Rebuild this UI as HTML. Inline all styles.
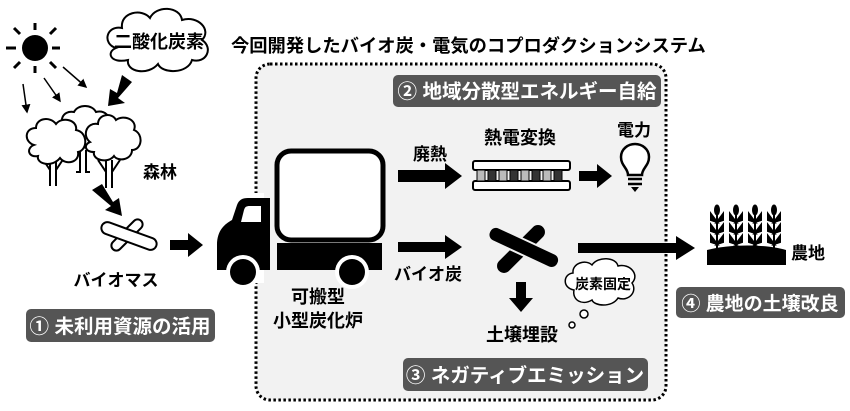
<!DOCTYPE html>
<html><head><meta charset="utf-8"><style>
html,body{margin:0;padding:0;background:#fff;}
svg{display:block;}
text{font-family:"Liberation Sans","Noto Sans CJK JP",sans-serif;font-weight:bold;}
</style></head><body>
<svg width="850" height="411" viewBox="0 0 850 411" xmlns="http://www.w3.org/2000/svg">
<defs>
<marker id="ah" markerWidth="6" markerHeight="6" refX="5" refY="3" orient="auto" markerUnits="strokeWidth"><path d="M0,0 L6,3 L0,6 Z" fill="#000"/></marker>
</defs>
<rect x="256" y="64" width="410" height="336" rx="14" fill="#f2f2f2" stroke="#000" stroke-width="3" stroke-dasharray="2.5,2.5"/>
<rect x="245" y="193" width="19" height="90" fill="#fff"/>
<text x="231" y="52" font-size="18.3">今回開発したバイオ炭・電気のコプロダクションシステム</text>

<rect x="393" y="75" width="268" height="32" rx="5" fill="#555"/>
<text x="527" y="98" font-size="19.5" fill="#fff" text-anchor="middle">② 地域分散型エネルギー自給</text>
<rect x="403" y="358" width="245" height="33" rx="5" fill="#555"/>
<text x="525" y="382" font-size="19.5" fill="#fff" text-anchor="middle">③ ネガティブエミッション</text>
<rect x="26" y="309" width="189" height="33" rx="5" fill="#555"/>
<text x="120" y="333" font-size="19.5" fill="#fff" text-anchor="middle">① 未利用資源の活用</text>
<rect x="676" y="287" width="169" height="31" rx="5" fill="#555"/>
<text x="760" y="310" font-size="19" fill="#fff" text-anchor="middle">④ 農地の土壌改良</text>

<circle cx="35" cy="48" r="13" fill="#000"/>
<g stroke="#000" stroke-width="3">
<line x1="35" y1="23" x2="35" y2="30"/><line x1="35" y1="66" x2="35" y2="73"/>
<line x1="6" y1="48" x2="16" y2="48"/><line x1="52" y1="48" x2="60" y2="48"/>
<line x1="14" y1="28" x2="20" y2="34"/><line x1="50" y1="62" x2="56" y2="68"/>
<line x1="14" y1="68" x2="20" y2="62"/><line x1="50" y1="34" x2="56" y2="28"/>
</g>
<g stroke="#000" stroke-width="1.5" marker-end="url(#ah)">
<line x1="23" y1="84" x2="27" y2="112"/>
<line x1="44" y1="78" x2="60" y2="101"/>
<line x1="63" y1="67" x2="86" y2="87"/>
</g>
<path d="M116,48 C102,44 106,25 122,28 C120,12 142,8 150,18 C156,5 180,6 182,20 C198,15 212,30 202,40 C214,48 206,64 192,60 C188,74 162,74 158,64 C148,76 126,72 128,60 C110,64 106,52 116,48 Z" fill="#fff" stroke="#000" stroke-width="2"/>
<text x="159" y="48" font-size="18" text-anchor="middle">二酸化炭素</text>
<path d="M122,75 L132,82 L118,98 L125,103 L108,106 L110,89 L117,93 Z" fill="#000"/>
<path d="M92,190 L102,184 L113,202 L119,198 L122,216 L105,210 L111,206 Z" fill="#000"/>
<g fill="#fff" stroke="#000" stroke-width="2">
<path d="M80,150 L80,172 L76,172 M86,150 L86,172 L90,172"/>
<path d="M66,130 C58,122 62,110 74,112 C78,104 92,104 96,112 C104,110 112,116 108,124 C116,128 112,142 102,140 C98,150 80,150 76,142 C66,146 58,138 66,130 Z"/>
<path d="M50,158 L50,186 M56,158 L56,186 M42,158 L50,170 M64,158 L56,170"/>
<path d="M34,145 C24,142 24,128 36,128 C36,118 50,116 56,124 C62,116 78,120 76,130 C88,132 88,150 78,152 C80,162 66,166 60,158 C52,168 36,164 38,156 C28,158 26,148 34,145 Z"/>
<path d="M106,160 L106,188 M112,160 L112,188 M98,160 L106,172 L106,160 M120,160 L112,172"/>
<path d="M90,142 C82,136 86,122 98,124 C98,114 112,112 116,120 C124,114 138,120 134,130 C144,134 142,150 132,150 C132,160 118,162 114,156 C108,164 92,160 94,152 C84,152 84,144 90,142 Z"/>
</g>
<text x="143" y="178" font-size="17">森林</text>
<g fill="#fff" stroke="#000" stroke-width="2">
<rect x="107" y="230" width="40" height="10" rx="5" transform="rotate(-45 127 235)"/>
<rect x="100" y="230" width="58" height="12" rx="6" transform="rotate(20 129 236)"/>
</g>
<text x="116" y="286" font-size="17" text-anchor="middle">バイオマス</text>
<path d="M170,240 L188,240 L188,233 L203,245 L188,257 L188,250 L170,250 Z" fill="#000"/>

<rect x="277" y="151" width="106" height="89" rx="14" fill="#fff" stroke="#000" stroke-width="5"/>
<rect x="277" y="243" width="105" height="27" fill="#000"/>
<path d="M217,245 C217,230 225,224 232,220 L237,205 C239,200 242,198 248,198 L270,198 L270,270 L217,270 Z" fill="#000"/>
<path d="M241,222 L244,210 C245,207 246,206 250,206 L261,206 L261,222 Z" fill="#fff"/>
<circle cx="243" cy="272" r="17" fill="#fff"/><circle cx="243" cy="272" r="13" fill="#000"/>
<circle cx="352" cy="272" r="17" fill="#fff"/><circle cx="352" cy="272" r="13" fill="#000"/>
<text x="318" y="303" font-size="18" text-anchor="middle">可搬型</text>
<text x="318" y="327" font-size="18" text-anchor="middle">小型炭化炉</text>

<text x="430" y="160" font-size="17" text-anchor="middle">廃熱</text>
<path d="M398,170 L445,170 L445,163 L462,176 L445,189 L445,182 L398,182 Z" fill="#000"/>
<text x="520" y="144" font-size="18" text-anchor="middle">熱電変換</text>
<rect x="473" y="161" width="97" height="9" rx="2" fill="#fff" stroke="#000" stroke-width="2"/>
<rect x="473" y="181" width="97" height="9" rx="2" fill="#fff" stroke="#000" stroke-width="2"/>
<g stroke="#000" stroke-width="1">
<rect x="477" y="170" width="8" height="11" fill="#bbb"/><rect x="488" y="170" width="8" height="11" fill="#333"/>
<rect x="499" y="170" width="8" height="11" fill="#bbb"/><rect x="510" y="170" width="8" height="11" fill="#333"/>
<rect x="521" y="170" width="8" height="11" fill="#bbb"/><rect x="532" y="170" width="8" height="11" fill="#333"/>
<rect x="543" y="170" width="8" height="11" fill="#bbb"/><rect x="554" y="170" width="8" height="11" fill="#333"/>
</g>
<path d="M579,171 L597,171 L597,164 L612,176 L597,188 L597,181 L579,181 Z" fill="#000"/>
<text x="634" y="136" font-size="17" text-anchor="middle">電力</text>
<path d="M628,175 C628,168 621,166 621,157 C621,149 628,144 635,144 C642,144 649,149 649,157 C649,166 642,168 642,175 Z" fill="#fff" stroke="#000" stroke-width="2.5"/>
<g stroke="#000" stroke-width="2.5"><line x1="628" y1="179" x2="642" y2="179"/><line x1="628" y1="184" x2="642" y2="184"/></g>
<path d="M631,187 L639,187 L635,192 Z" fill="#000"/>

<path d="M398,242 L445,242 L445,235 L462,247 L445,259 L445,252 L398,252 Z" fill="#000"/>
<text x="428" y="280" font-size="17" text-anchor="middle">バイオ炭</text>
<rect x="490" y="242" width="62" height="14" rx="7" fill="#000" transform="rotate(-45 521 249)"/>
<rect x="486" y="240" width="76" height="15" rx="7" fill="#000" stroke="#f2f2f2" stroke-width="2" transform="rotate(25 524 247)"/>
<rect x="578" y="243" width="100" height="10" fill="#000"/>
<path d="M676,236 L695,248 L676,260 Z" fill="#000"/>
<path d="M516,282 L526,282 L526,298 L533,298 L521,312 L509,298 L516,298 Z" fill="#000"/>
<text x="522" y="341" font-size="18" text-anchor="middle">土壌埋設</text>
<path d="M574,290 C562,288 563,274 573,273 C572,263 586,259 592,265 C598,256 616,257 618,266 C630,263 640,275 632,283 C638,292 628,302 618,298 C612,308 594,306 592,300 C582,306 572,300 574,290 Z" fill="#fff" stroke="#000" stroke-width="1.5"/>
<text x="603" y="289" font-size="14" text-anchor="middle">炭素固定</text>
<circle cx="584" cy="314" r="4" fill="#fff" stroke="#000" stroke-width="1.5"/>
<circle cx="572" cy="325" r="3" fill="#fff" stroke="#000" stroke-width="1.5"/>

<path d="M707,265 L707,250 C730,244 765,244 786,250 L786,265 Z" fill="#000"/>
<g fill="#000" stroke="#000">
<g id="w"><line x1="717" y1="205" x2="717" y2="252" stroke-width="2"/>
<path d="M717,222 L711,214 L711,220 Z M717,222 L723,214 L723,220 Z" stroke-width="2"/>
<path d="M717,233 L711,225 L711,231 Z M717,233 L723,225 L723,231 Z" stroke-width="2"/>
<path d="M717,244 L711,236 L711,242 Z M717,244 L723,236 L723,242 Z" stroke-width="2"/>
<ellipse cx="717" cy="210" rx="2.5" ry="5"/></g>
<use href="#w" x="19"/><use href="#w" x="38"/><use href="#w" x="57"/>
</g>
<text x="808" y="259" font-size="17" text-anchor="middle">農地</text>
</svg>
</body></html>
